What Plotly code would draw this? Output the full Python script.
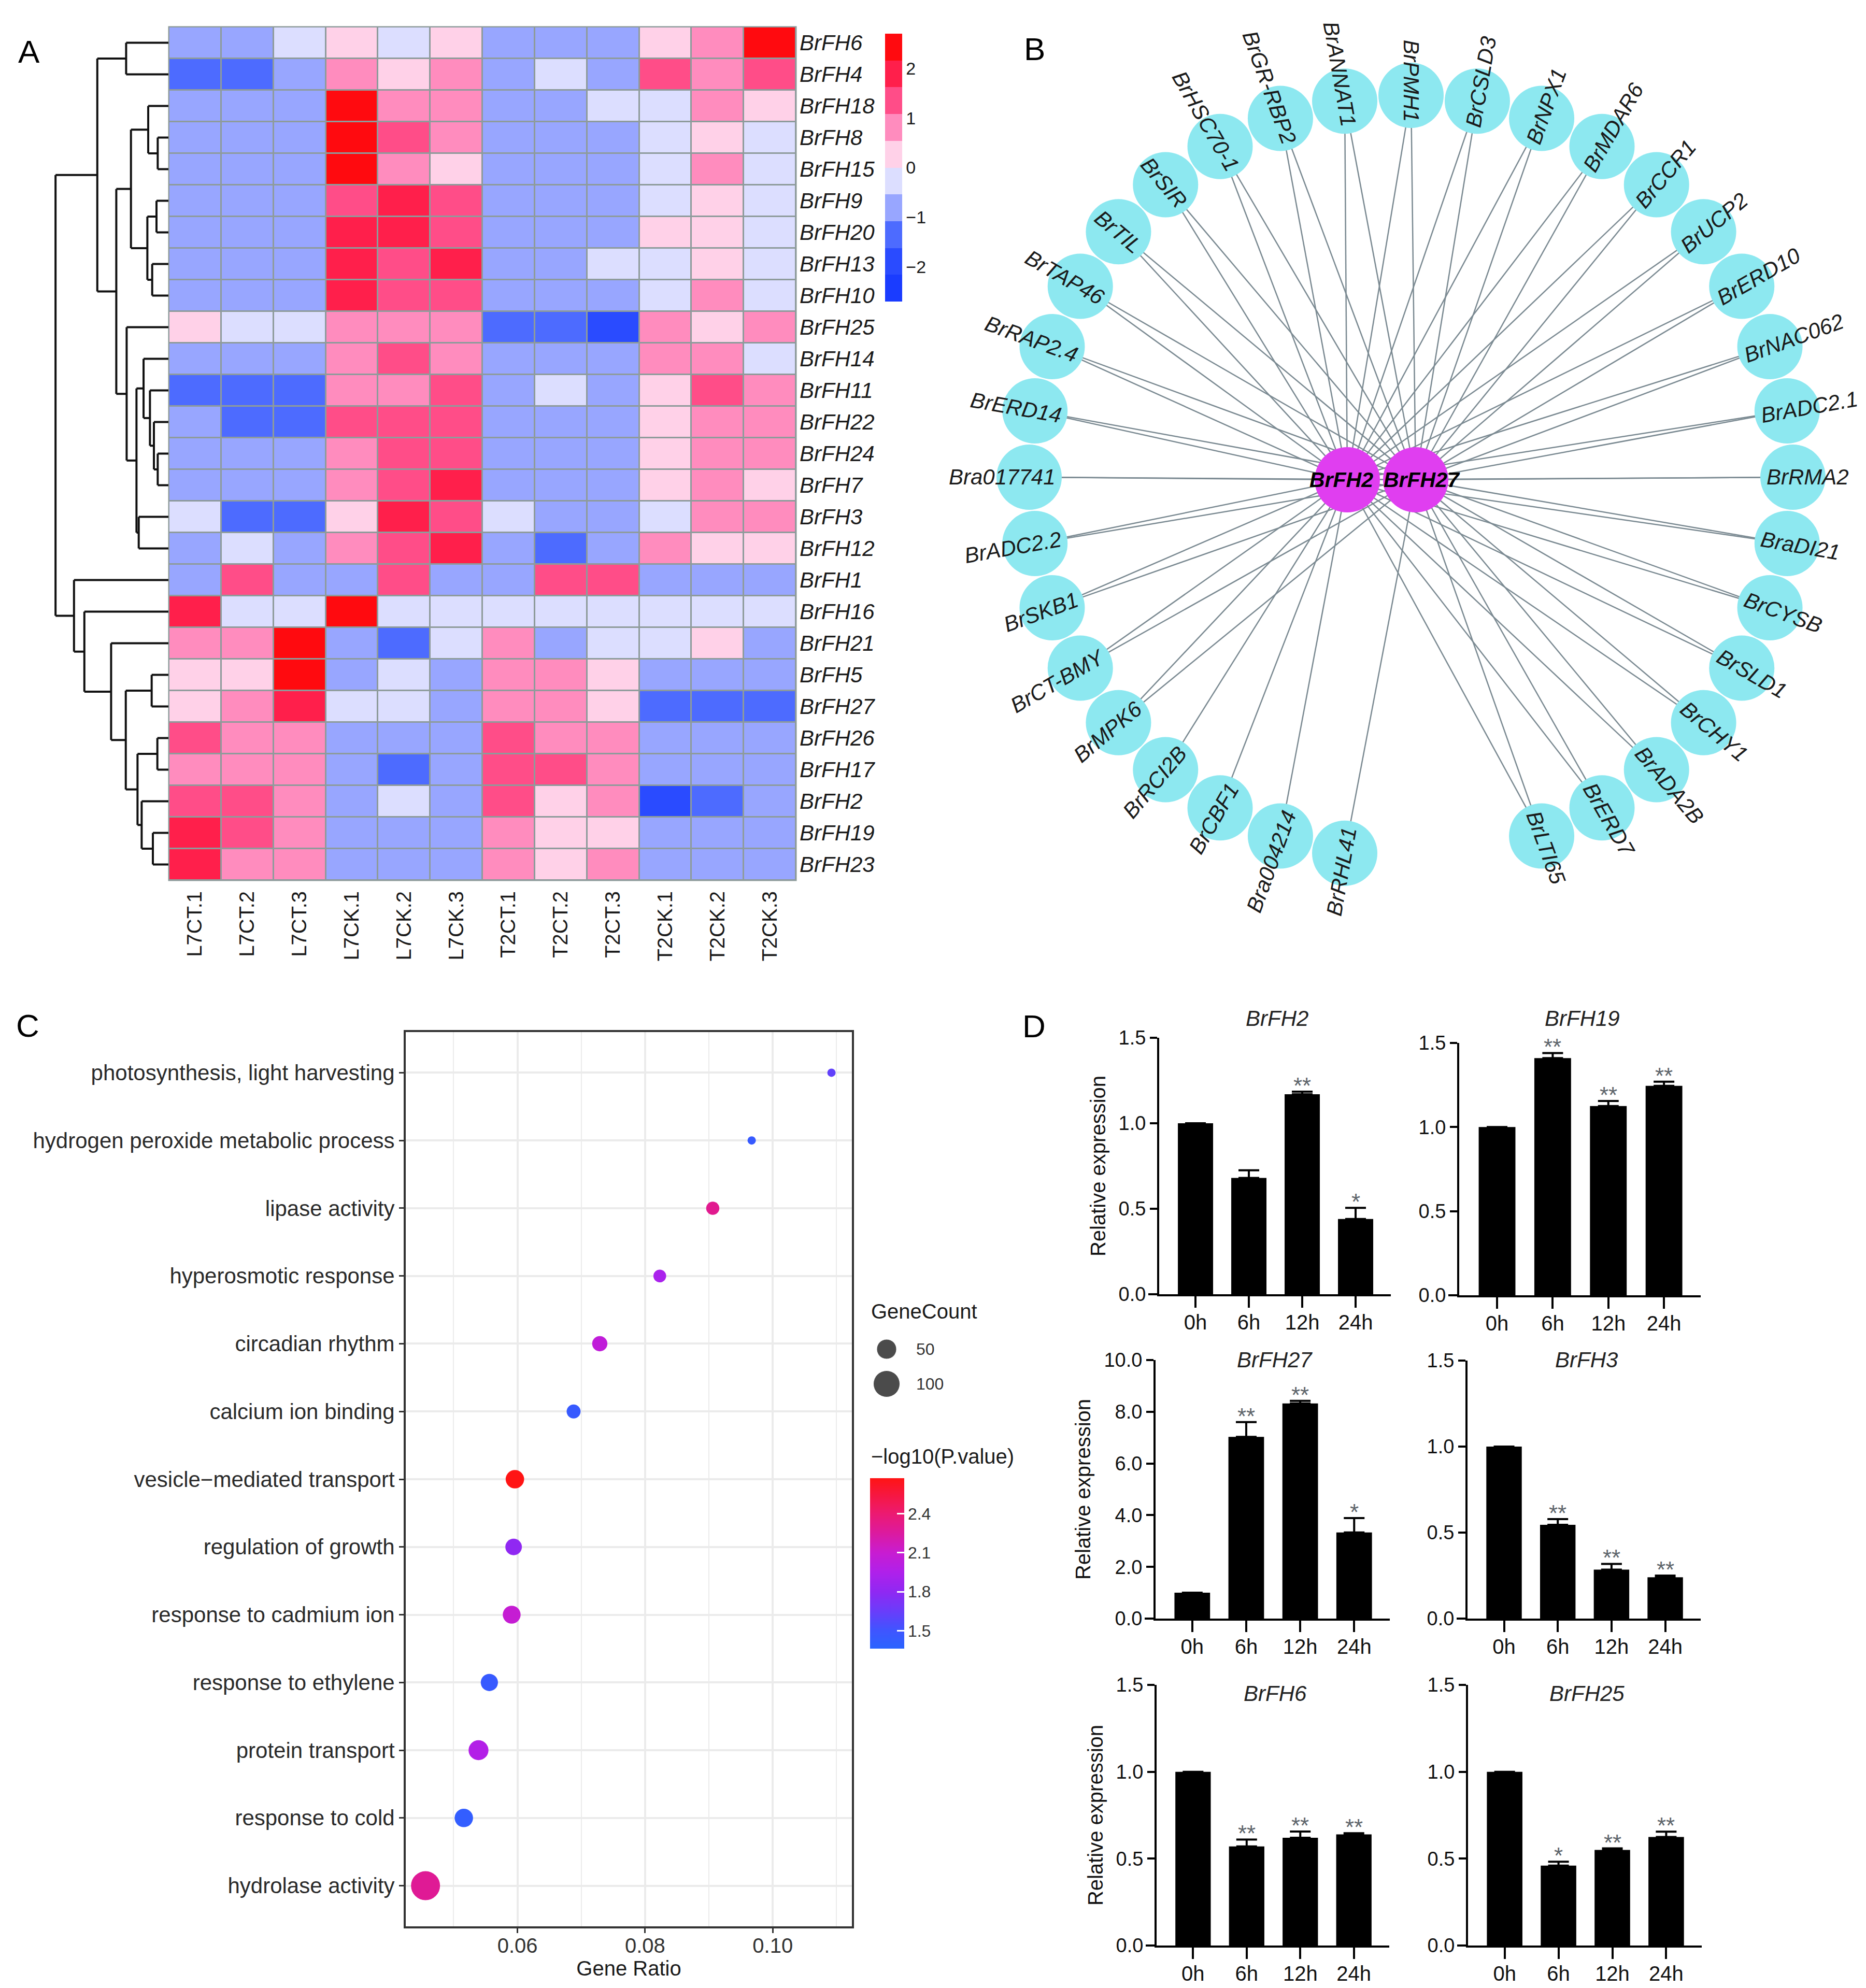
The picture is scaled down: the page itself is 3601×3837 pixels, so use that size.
import math
import plotly.graph_objects as go

W, H = 3601, 3837
FONT = "Liberation Sans, Arial, Helvetica, sans-serif"
INK = "#1a1a1a"


def fx(x):
    return x / W


def fy(y):
    return 1 - y / H


# ------------------------------------------------------------------ Panel A data
samples = ["L7CT.1", "L7CT.2", "L7CT.3", "L7CK.1", "L7CK.2", "L7CK.3",
           "T2CT.1", "T2CT.2", "T2CT.3", "T2CK.1", "T2CK.2", "T2CK.3"]
genes_A = ["BrFH6", "BrFH4", "BrFH18", "BrFH8", "BrFH15", "BrFH9", "BrFH20", "BrFH13",
           "BrFH10", "BrFH25", "BrFH14", "BrFH11", "BrFH22", "BrFH24", "BrFH7", "BrFH3",
           "BrFH12", "BrFH1", "BrFH16", "BrFH21", "BrFH5", "BrFH27", "BrFH26", "BrFH17",
           "BrFH2", "BrFH19", "BrFH23"]
zscore_rows = [
    [-0.8, -0.8, -0.27, 0.27, -0.27, 0.27, -0.8, -0.8, -0.8, 0.27, 0.8, 2.45],
    [-1.35, -1.35, -0.8, 0.8, 0.27, 0.8, -0.8, -0.27, -0.8, 1.35, 0.8, 1.35],
    [-0.8, -0.8, -0.8, 2.45, 0.8, 0.8, -0.8, -0.8, -0.27, -0.27, 0.8, 0.27],
    [-0.8, -0.8, -0.8, 2.45, 1.35, 0.8, -0.8, -0.8, -0.8, -0.27, 0.27, -0.27],
    [-0.8, -0.8, -0.8, 2.45, 0.8, 0.27, -0.8, -0.8, -0.8, -0.27, 0.8, -0.27],
    [-0.8, -0.8, -0.8, 1.35, 1.9, 1.35, -0.8, -0.8, -0.8, -0.27, 0.27, -0.27],
    [-0.8, -0.8, -0.8, 1.9, 1.9, 1.35, -0.8, -0.8, -0.8, 0.27, 0.27, -0.27],
    [-0.8, -0.8, -0.8, 1.9, 1.35, 1.9, -0.8, -0.8, -0.27, -0.27, 0.27, -0.27],
    [-0.8, -0.8, -0.8, 1.9, 1.35, 1.35, -0.8, -0.8, -0.8, -0.27, 0.8, -0.27],
    [0.27, -0.27, -0.27, 0.8, 0.8, 0.8, -1.35, -1.35, -1.9, 0.8, 0.27, 0.8],
    [-0.8, -0.8, -0.8, 0.8, 1.35, 0.8, -0.8, -0.8, -0.8, 0.8, 0.8, -0.27],
    [-1.35, -1.35, -1.35, 0.8, 0.8, 1.35, -0.8, -0.27, -0.8, 0.27, 1.35, 0.8],
    [-0.8, -1.35, -1.35, 1.35, 1.35, 1.35, -0.8, -0.8, -0.8, 0.27, 0.8, 0.8],
    [-0.8, -0.8, -0.8, 0.8, 1.35, 1.35, -0.8, -0.8, -0.8, 0.27, 0.8, 0.8],
    [-0.8, -0.8, -0.8, 0.8, 1.35, 1.9, -0.8, -0.8, -0.8, 0.27, 0.8, 0.27],
    [-0.27, -1.35, -1.35, 0.27, 1.9, 1.35, -0.27, -0.8, -0.8, -0.27, 0.8, 0.8],
    [-0.8, -0.27, -0.8, 0.8, 1.35, 1.9, -0.8, -1.35, -0.8, 0.8, 0.27, 0.27],
    [-0.8, 1.35, -0.8, -0.8, 1.35, -0.8, -0.8, 1.35, 1.35, -0.8, -0.8, -0.8],
    [1.9, -0.27, -0.27, 2.45, -0.27, -0.27, -0.27, -0.27, -0.27, -0.27, -0.27, -0.27],
    [0.8, 0.8, 2.45, -0.8, -1.35, -0.27, 0.8, -0.8, -0.27, -0.27, 0.27, -0.8],
    [0.27, 0.27, 2.45, -0.8, -0.27, -0.8, 0.8, 0.8, 0.27, -0.8, -0.8, -0.8],
    [0.27, 0.8, 1.9, -0.27, -0.27, -0.8, 0.8, 0.8, 0.27, -1.35, -1.35, -1.35],
    [1.35, 0.8, 0.8, -0.8, -0.8, -0.8, 1.35, 0.8, 0.8, -0.8, -0.8, -0.8],
    [0.8, 0.8, 0.8, -0.8, -1.35, -0.8, 1.35, 1.35, 0.8, -0.8, -0.8, -0.8],
    [1.35, 1.35, 0.8, -0.8, -0.27, -0.8, 1.35, 0.27, 0.8, -1.9, -1.35, -0.8],
    [1.9, 1.35, 0.8, -0.8, -0.8, -0.8, 0.8, 0.27, 0.27, -0.8, -0.8, -0.8],
    [1.9, 0.8, 0.8, -0.8, -0.8, -0.8, 0.8, 0.27, 0.8, -0.8, -0.8, -0.8],
]
heat_colors = ["#1A3CFF", "#2A4BFF", "#4D6BFF", "#98A6FF", "#DCDEFF",
               "#FFD1E8", "#FF8CBE", "#FF4D88", "#FF1F4B", "#FF0A0F"]
Z_LIM = 2.7
heat_ticks = [-2, -1, 0, 1, 2]

# row dendrogram: (left, right, merge height)
dendro_tree = (
    (("BrFH6", "BrFH4", 2.45),
     (((("BrFH18", ("BrFH8", "BrFH15", 0.62), 1.17),
        (("BrFH9", "BrFH20", 0.69), ("BrFH13", "BrFH10", 0.94), 1.22), 2.17)),
      ("BrFH25",
       (("BrFH14", ("BrFH11", ("BrFH22", ("BrFH24", "BrFH7", 0.62), 0.84), 1.07), 1.44),
        ("BrFH3", "BrFH12", 1.72), 1.85), 2.42), 3.02), 4.12),
    ("BrFH1",
     ("BrFH16",
      ("BrFH21",
       (("BrFH5", "BrFH27", 0.97),
        (("BrFH26", "BrFH17", 0.64), ("BrFH2", ("BrFH19", "BrFH23", 0.90), 1.55), 1.79), 2.47),
       3.32), 4.87), 5.47),
    6.54)

# ------------------------------------------------------------------ Panel B data
outer_nodes = ["BrRHL41", "Bra004214", "BrCBF1", "BrRCI2B", "BrMPK6", "BrCT-BMY", "BrSKB1",
               "BrADC2.2", "Bra017741", "BrERD14", "BrRAP2.4", "BrTAP46", "BrTIL", "BrSIR",
               "BrHSC70-1", "BrGR-RBP2", "BrANNAT1", "BrPMH1", "BrCSLD3", "BrNPX1", "BrMDAR6",
               "BrCCR1", "BrUCP2", "BrERD10", "BrNAC062", "BrADC2.1", "BrRMA2", "BraDI21",
               "BrCYSB", "BrSLD1", "BrCHY1", "BrADA2B", "BrERD7", "BrLTI65"]
hub_nodes = ["BrFH2", "BrFH27"]
single_links = {"BrRCI2B": "BrFH2", "BrCBF1": "BrFH2", "Bra004214": "BrFH2", "BrRHL41": "BrFH27"}

# ------------------------------------------------------------------ Panel C data
go_terms = ["photosynthesis, light harvesting", "hydrogen peroxide metabolic process",
            "lipase activity", "hyperosmotic response", "circadian rhythm",
            "calcium ion binding", "vesicle\u2212mediated transport", "regulation of growth",
            "response to cadmium ion", "response to ethylene", "protein transport",
            "response to cold", "hydrolase activity"]
gene_ratio = [0.1092, 0.0967, 0.0906, 0.0823, 0.0729, 0.0688, 0.0596, 0.0594, 0.0591,
              0.0556, 0.0539, 0.0516, 0.0456]
gene_count = [17, 17, 23, 22, 29, 25, 43, 34, 40, 37, 51, 43, 125]
neg_log10_p = [1.62, 1.45, 2.30, 1.92, 2.05, 1.45, 2.67, 1.80, 2.08, 1.45, 1.97, 1.42, 2.28]
count_legend = [50, 100]
p_ticks = [1.5, 1.8, 2.1, 2.4]
P_MIN, P_MAX = 1.36, 2.67
p_stop_vals = [1.36, 1.5, 1.65, 1.8, 1.95, 2.1, 2.25, 2.4, 2.67]
p_stop_cols = ["#2A64FF", "#3F55FF", "#6A3CFA", "#9028F2", "#B020EA", "#C81CD0",
               "#DC1A9E", "#EC1A70", "#FF1414"]
ratio_range = [0.0425, 0.1124]

# ------------------------------------------------------------------ Panel D data
time_points = ["0h", "6h", "12h", "24h"]
qpcr_genes = ["BrFH2", "BrFH19", "BrFH27", "BrFH3", "BrFH6", "BrFH25"]
mean_BrFH2 = [1.0, 0.68, 1.17, 0.44]
mean_BrFH19 = [1.0, 1.41, 1.125, 1.245]
mean_BrFH27 = [1.0, 7.03, 8.32, 3.33]
mean_BrFH3 = [1.0, 0.545, 0.285, 0.24]
mean_BrFH6 = [1.0, 0.57, 0.62, 0.64]
mean_BrFH25 = [1.0, 0.46, 0.55, 0.625]
err_BrFH2 = [0.0, 0.045, 0.015, 0.065]
err_BrFH19 = [0.0, 0.03, 0.03, 0.025]
err_BrFH27 = [0.0, 0.57, 0.10, 0.56]
err_BrFH3 = [0.0, 0.033, 0.033, 0.01]
err_BrFH6 = [0.0, 0.04, 0.036, 0.006]
err_BrFH25 = [0.0, 0.022, 0.009, 0.03]
sig_BrFH2 = ["", "", "**", "*"]
sig_BrFH19 = ["", "**", "**", "**"]
sig_BrFH27 = ["", "**", "**", "*"]
sig_BrFH3 = ["", "**", "**", "**"]
sig_BrFH6 = ["", "**", "**", "**"]
sig_BrFH25 = ["", "*", "**", "**"]
qpcr_mean = [mean_BrFH2, mean_BrFH19, mean_BrFH27, mean_BrFH3, mean_BrFH6, mean_BrFH25]
qpcr_err = [err_BrFH2, err_BrFH19, err_BrFH27, err_BrFH3, err_BrFH6, err_BrFH25]
qpcr_sig = [sig_BrFH2, sig_BrFH19, sig_BrFH27, sig_BrFH3, sig_BrFH6, sig_BrFH25]
qpcr_ymax = [1.5, 1.5, 10.0, 1.5, 1.5, 1.5]
qpcr_dtick = [0.5, 0.5, 2.0, 0.5, 0.5, 0.5]

# ================================================================== build
fig = go.Figure()
layout = dict(width=W, height=H, margin=dict(l=0, r=0, t=0, b=0),
              paper_bgcolor="white", plot_bgcolor="rgba(0,0,0,0)", showlegend=False,
              font=dict(family=FONT, color=INK))
annotations = []
shapes = []

# ---------------- A: heatmap
heat_cs = []
nb = len(heat_colors)
for i, c in enumerate(heat_colors):
    heat_cs.append([i / nb, c])
    heat_cs.append([(i + 1) / nb, c])

rows_idx = list(range(len(genes_A)))
fig.add_trace(go.Heatmap(
    z=zscore_rows, x=samples, y=rows_idx, colorscale=heat_cs, zmin=-Z_LIM, zmax=Z_LIM,
    xgap=3, ygap=3, xaxis="x", yaxis="y", hoverinfo="skip",
    colorbar=dict(x=fx(1700), xanchor="left", y=fy(315.5), yanchor="middle",
                  len=517, lenmode="pixels", thickness=33, outlinewidth=0,
                  xpad=0, ypad=0, tickvals=heat_ticks, ticks="",
                  tickfont=dict(size=34, family=FONT, color=INK))))
layout["xaxis"] = dict(domain=[fx(318), fx(1528)], anchor="y", type="category",
                       tickangle=-90, ticks="", showgrid=False, zeroline=False,
                       showline=False, ticklabelstandoff=12, automargin=False,
                       tickfont=dict(size=40, family=FONT, color=INK))
layout["yaxis"] = dict(domain=[fy(1691), fy(44)], anchor="x",
                       range=[len(genes_A) - 0.5, -0.5], tickvals=rows_idx,
                       ticktext=[f"<i>{g}</i>" for g in genes_A], side="right",
                       ticks="", showgrid=False, zeroline=False, showline=False,
                       ticklabelstandoff=6, automargin=False,
                       tickfont=dict(size=42, family=FONT, color=INK))
shapes.append(dict(type="rect", xref="x domain", yref="y domain", x0=0, x1=1, y0=0, y1=1,
                   fillcolor="#8E9B9B", line=dict(color="#8E9B9B", width=3), layer="below"))

# dendrogram
leaf_pos = {g: i for i, g in enumerate(genes_A)}
dx, dy = [], []


def walk(node):
    if isinstance(node, str):
        return leaf_pos[node], 0.0
    left, right, h = node
    yl, hl = walk(left)
    yr, hr = walk(right)
    dx.extend([hl, h, None, hr, h, None, h, h, None])
    dy.extend([yl, yl, None, yr, yr, None, yl, yr, None])
    return (yl + yr) / 2, h


_, root_h = walk(dendro_tree)
fig.add_trace(go.Scatter(x=dx, y=dy, mode="lines", line=dict(color="#111111", width=4),
                         xaxis="x2", yaxis="y2", hoverinfo="skip", cliponaxis=False))
layout["xaxis2"] = dict(domain=[fx(97), fx(317)], anchor="y2", range=[root_h * 1.01, 0],
                        visible=False, automargin=False)
layout["yaxis2"] = dict(domain=[fy(1691), fy(44)], anchor="x2",
                        range=[len(genes_A) - 0.5, -0.5], visible=False, automargin=False)

# ---------------- B: network
R_PX = 737.0
NET_CX, NET_CY = 2715, 913
hub_offset_px = {"BrFH2": (-123, -5), "BrFH27": (9, -5)}
hub_label_shift_px = {"BrFH2": -12, "BrFH27": 12}
slot_step = 10.0
ARIAL_W = {**{d: 0.556 for d in "0123456789"}, ".": 0.278, "-": 0.333,
           "A": 0.667, "B": 0.667, "C": 0.722, "D": 0.722, "E": 0.667, "F": 0.611,
           "G": 0.778, "H": 0.722, "I": 0.278, "K": 0.667, "L": 0.556, "M": 0.833,
           "N": 0.722, "O": 0.778, "P": 0.667, "R": 0.722, "S": 0.667, "T": 0.611,
           "U": 0.722, "X": 0.667, "Y": 0.667, "a": 0.556, "r": 0.333}
LABEL_FS = 42

hub_xy = {h: (hub_offset_px[h][0] / R_PX, hub_offset_px[h][1] / R_PX) for h in hub_nodes}
node_xy = {}
ex, ey = [], []
for i, name in enumerate(outer_nodes):
    alpha = (i + 1) * slot_step
    phi = -90.0 - alpha
    phi = ((phi + 180.0) % 360.0) - 180.0
    if phi == -180.0:
        phi = 180.0
    c, s = math.cos(math.radians(phi)), math.sin(math.radians(phi))
    node_xy[name] = (c, s)
    targets = [single_links[name]] if name in single_links else hub_nodes
    for t in targets:
        ex.extend([c, hub_xy[t][0], None])
        ey.extend([s, hub_xy[t][1], None])
    # label
    tlen = sum(ARIAL_W.get(ch, 0.6) for ch in name) * LABEL_FS
    rl = (686.0 + tlen / 2) / R_PX
    ta = -phi if c > 1e-6 else -(phi + 180.0)
    ta = ((ta + 180.0) % 360.0) - 180.0
    annotations.append(dict(x=rl * c, y=rl * s, xref="x3", yref="y3", text=f"<i>{name}</i>",
                            showarrow=False, textangle=ta, xanchor="center", yanchor="middle",
                            font=dict(size=LABEL_FS, family=FONT, color=INK)))

fig.add_trace(go.Scatter(x=ex, y=ey, mode="lines", line=dict(color="#7B8A92", width=2.5),
                         xaxis="x3", yaxis="y3", hoverinfo="skip"))
fig.add_trace(go.Scatter(x=[node_xy[n][0] for n in outer_nodes],
                         y=[node_xy[n][1] for n in outer_nodes], mode="markers",
                         marker=dict(size=126, color="#8DE8F0", line=dict(width=0)),
                         xaxis="x3", yaxis="y3", hoverinfo="skip", cliponaxis=False))
fig.add_trace(go.Scatter(x=[hub_xy[h][0] for h in hub_nodes], y=[hub_xy[h][1] for h in hub_nodes],
                         mode="markers", marker=dict(size=126, color="#E03EF0", line=dict(width=0)),
                         xaxis="x3", yaxis="y3", hoverinfo="skip"))
for h in hub_nodes:
    annotations.append(dict(x=hub_xy[h][0] + hub_label_shift_px[h] / R_PX, y=hub_xy[h][1],
                            xref="x3", yref="y3",
                            text=f"<b><i>{h}</i></b>", showarrow=False,
                            font=dict(size=41, family=FONT, color="black")))
NX0, NX1, NY0, NY1 = 1835, 3595, 13, 1813
layout["xaxis3"] = dict(domain=[fx(NX0), fx(NX1)], anchor="y3",
                        range=[(NX0 - NET_CX) / R_PX, (NX1 - NET_CX) / R_PX],
                        visible=False, automargin=False)
layout["yaxis3"] = dict(domain=[fy(NY1), fy(NY0)], anchor="x3",
                        range=[-(NY1 - NET_CY) / R_PX, (NET_CY - NY0) / R_PX],
                        visible=False, automargin=False)

# ---------------- C: GO bubble plot
CMIN, CMAX = min(gene_count), max(gene_count)


def bubble_d(cnt):
    return 16 + 40 * math.sqrt(max(cnt - CMIN, 0) / (CMAX - CMIN))


p_cs = [[(v - P_MIN) / (P_MAX - P_MIN), col] for v, col in zip(p_stop_vals, p_stop_cols)]
LEG_DY = -12
fig.add_trace(go.Scatter(
    x=gene_ratio, y=go_terms, mode="markers", xaxis="x4", yaxis="y4", hoverinfo="skip",
    cliponaxis=False,
    marker=dict(size=[bubble_d(c) for c in gene_count], color=neg_log10_p, colorscale=p_cs,
                cmin=P_MIN, cmax=P_MAX, opacity=1, line=dict(width=0),
                colorbar=dict(x=fx(1671), xanchor="left", y=fy(3016 + LEG_DY / 2),
                              yanchor="middle",
                              len=329, lenmode="pixels", thickness=66, outlinewidth=0,
                              xpad=0, ypad=0, tickvals=p_ticks, ticks="inside",
                              tickcolor="white", ticklen=14, tickwidth=3,
                              tickfont=dict(size=32, family=FONT, color="#333333")))))
grid_c = "#EBEBEB"
layout["xaxis4"] = dict(domain=[fx(775), fx(1636)], anchor="y4", range=ratio_range,
                        tick0=0, dtick=0.02, tickformat=".2f", showgrid=True,
                        gridcolor=grid_c, gridwidth=4, zeroline=False,
                        minor=dict(tick0=0, dtick=0.01, showgrid=True, gridcolor=grid_c,
                                   gridwidth=2, ticks=""),
                        ticks="outside", ticklen=9, tickwidth=3, tickcolor="#333333",
                        showline=True, mirror=True, linecolor="#333333", linewidth=4,
                        ticklabelstandoff=-10,
                        tickfont=dict(size=40, family=FONT, color="#333333"),
                        title=dict(text="Gene Ratio", standoff=10,
                                   font=dict(size=40, family=FONT, color=INK)),
                        automargin=False)
layout["yaxis4"] = dict(domain=[fy(3710), fy(1984)], anchor="x4", type="category",
                        categoryorder="array", categoryarray=go_terms[::-1],
                        range=[-0.6, len(go_terms) - 0.4], showgrid=True, gridcolor=grid_c,
                        gridwidth=4, zeroline=False, ticks="outside", ticklen=9, tickwidth=3,
                        tickcolor="#333333", showline=True, mirror=True, linecolor="#333333",
                        linewidth=4, tickfont=dict(size=42, family=FONT, color="#2a2a2a"),
                        automargin=False)

# size legend
fig.add_trace(go.Scatter(x=[0.5] * len(count_legend), y=list(range(len(count_legend))),
                         mode="markers", xaxis="x5", yaxis="y5", hoverinfo="skip",
                         cliponaxis=False,
                         marker=dict(size=[bubble_d(c) for c in count_legend], color="black")))
layout["xaxis5"] = dict(domain=[fx(1668), fx(1738)], anchor="y5", range=[0, 1],
                        visible=False, automargin=False)
layout["yaxis5"] = dict(domain=[fy(2708.5 + LEG_DY), fy(2574.5 + LEG_DY)], anchor="x5",
                        range=[1.5, -0.5], visible=False, automargin=False)
for i, c in enumerate(count_legend):
    annotations.append(dict(x=fx(1758), y=fy(2608 + 67 * i + LEG_DY), xref="paper",
                            yref="paper", text=str(c), showarrow=False, xanchor="left",
                            yanchor="middle",
                            font=dict(size=32, family=FONT, color="#333333")))
annotations.append(dict(x=fx(1671), y=fy(2535 + LEG_DY), xref="paper", yref="paper",
                        text="GeneCount", showarrow=False, xanchor="left", yanchor="middle",
                        font=dict(size=40, family=FONT, color=INK)))
annotations.append(dict(x=fx(1671), y=fy(2815 + LEG_DY), xref="paper", yref="paper",
                        text="\u2212log10(P.value)", showarrow=False, xanchor="left",
                        yanchor="middle", font=dict(size=40, family=FONT, color=INK)))

# ---------------- D: qPCR bar charts
d_boxes = [(2229, 2676, 1995, 2490), (2808, 3274, 2005, 2492),
           (2222, 2674, 2617, 3116), (2824, 3274, 2618, 3116),
           (2224, 2673, 3244, 3747), (2825, 3276, 3244, 3747)]
d_title_y = [1957, 1957, 2616, 2616, 3260, 3260]
for k, gname in enumerate(qpcr_genes):
    ax = 6 + k
    xa, ya = f"x{ax}", f"y{ax}"
    x0, x1, y0, y1 = d_boxes[k]
    fig.add_trace(go.Bar(
        x=time_points, y=qpcr_mean[k], width=0.66, xaxis=xa, yaxis=ya, hoverinfo="skip",
        marker=dict(color="black", line=dict(width=0)),
        error_y=dict(type="data", array=qpcr_err[k], arrayminus=[0] * len(time_points),
                     symmetric=False, color="black", thickness=4, width=20)))
    layout[f"xaxis{ax}"] = dict(domain=[fx(x0), fx(x1)], anchor=ya, type="category",
                                range=[-0.68, len(time_points) - 0.34], showgrid=False,
                                zeroline=False, showline=True, linecolor="black", linewidth=4,
                                ticks="outside", ticklen=22, tickwidth=4, tickcolor="black",
                                ticklabelstandoff=-6,
                                tickfont=dict(size=40, family=FONT, color="#111111"),
                                automargin=False)
    ydict = dict(domain=[fy(y1), fy(y0)], anchor=xa, range=[0, qpcr_ymax[k]], tick0=0,
                 dtick=qpcr_dtick[k], tickformat=".1f", showgrid=False, zeroline=False,
                 showline=True, linecolor="black", linewidth=4, ticks="outside", ticklen=14,
                 tickwidth=4, tickcolor="black",
                 tickfont=dict(size=38, family=FONT, color="#111111"), automargin=False)
    if k % 2 == 0:
        ydict["title"] = dict(text="Relative expression", standoff=14,
                              font=dict(size=40, family=FONT, color="#111111"))
    layout[f"yaxis{ax}"] = ydict
    # x-axis line overhang to the left of the y axis (GraphPad style)
    shapes.append(dict(type="line", xref="paper", yref=f"{ya} domain",
                       x0=fx(x0 - 21), x1=fx(x0), y0=0, y1=0,
                       line=dict(color="black", width=4)))
    annotations.append(dict(x=fx((x0 + x1) / 2 + 4), y=fy(d_title_y[k]), xref="paper",
                            yref="paper", text=f"<i>{gname}</i>", showarrow=False,
                            xanchor="center", yanchor="middle",
                            font=dict(size=42, family=FONT, color="#222222")))
    for t, m, e, s in zip(time_points, qpcr_mean[k], qpcr_err[k], qpcr_sig[k]):
        if s:
            annotations.append(dict(x=t, y=m + e, xref=xa, yref=ya, text=s, showarrow=False,
                                    xanchor="center", yanchor="bottom", yshift=-15,
                                    font=dict(size=44, family=FONT, color="#5E656B")))

# ---------------- panel letters
for letter, (lx, ly) in zip("ABCD", [(48, 92), (1989, 86), (45, 1971), (1987, 1972)]):
    annotations.append(dict(x=fx(lx), y=fy(ly), xref="paper", yref="paper", text=letter,
                            showarrow=False, xanchor="center", yanchor="middle",
                            font=dict(size=62, family=FONT, color="black")))

layout["annotations"] = annotations
layout["shapes"] = shapes
fig.update_layout(**layout)
fig.write_html("out.html")
